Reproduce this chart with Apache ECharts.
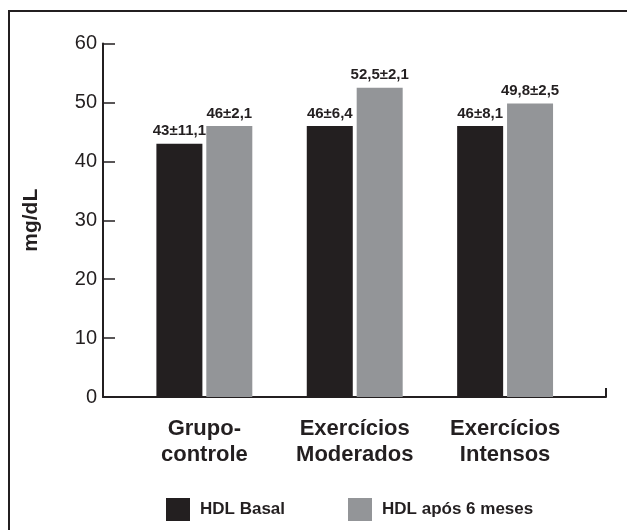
<!DOCTYPE html>
<html>
<head>
<meta charset="utf-8">
<script src="https://cdn.jsdelivr.net/npm/echarts@6/dist/echarts.min.js"></script>
<style>
  html, body { margin: 0; padding: 0; background: #fff; }
  #chart { width: 627px; height: 530px; }
</style>
</head>
<body>
<div id="chart"></div>
<script>
// groups on the x axis
const categories = ['Grupo-\ncontrole', 'Exercícios\nModerados', 'Exercícios\nIntensos'];
const seriesNames = ['HDL Basal', 'HDL após 6 meses'];
// mean values (mg/dL)
const basalValues = [43, 46, 46];
const afterValues = [46, 52.5, 49.8];
// labels printed over the bars
const basalLabels = ['43±11,1', '46±6,4', '46±8,1'];
const afterLabels = ['46±2,1', '52,5±2,1', '49,8±2,5'];
const yTicks = [0, 10, 20, 30, 40, 50, 60];

const dark = '#231f20';
const gray = '#939598';
const font = 'Liberation Sans, Arial, sans-serif';

const chart = echarts.init(document.getElementById('chart'));

function toPoints(vals) {
  return vals.map((v, i) => [i + 1, v]);
}

function barSeries(name, vals, labels, color) {
  return {
    name: name,
    type: 'bar',
    data: toPoints(vals),
    barWidth: 46,
    barGap: '8.5%',
    itemStyle: { color: color },
    label: {
      show: true,
      position: 'top',
      distance: 5,
      fontFamily: font,
      fontWeight: 'bold',
      fontSize: 15,
      color: dark,
      formatter: p => labels[p.dataIndex]
    }
  };
}

const option = {
  animation: false,
  backgroundColor: '#fff',
  graphic: [{
    type: 'rect',
    shape: { x: 9, y: 11, width: 800, height: 700 },
    style: { fill: 'none', stroke: dark, lineWidth: 2 }
  }],
  grid: { left: 103, right: 21, top: 43.5, bottom: 133 },
  legend: {
    left: 166,
    top: 498,
    padding: 0,
    icon: 'rect',
    itemWidth: 24,
    itemHeight: 23,
    itemGap: 63,
    data: seriesNames,
    textStyle: {
      fontFamily: font,
      fontWeight: 'bold',
      fontSize: 17,
      color: dark,
      padding: [0, 0, 0, 5]
    }
  },
  xAxis: {
    type: 'value',
    min: 0.326,
    max: 3.671,
    axisLine: { show: true, lineStyle: { color: dark, width: 2 } },
    axisTick: { show: true, inside: true, length: 9, customValues: [3.671], lineStyle: { color: dark, width: 2 } },
    axisLabel: {
      customValues: [1, 2, 3],
      formatter: v => categories[Math.round(v) - 1],
      fontFamily: font,
      fontWeight: 'bold',
      fontSize: 22,
      lineHeight: 26,
      color: dark,
      margin: 19
    },
    splitLine: { show: false }
  },
  yAxis: {
    type: 'value',
    min: yTicks[0],
    max: yTicks[yTicks.length - 1],
    interval: 10,
    name: 'mg/dL',
    nameLocation: 'middle',
    nameRotate: 90,
    nameGap: 61,
    nameTextStyle: { fontFamily: font, fontWeight: 'bold', fontSize: 21, color: dark },
    axisLine: { show: true, lineStyle: { color: dark, width: 2 } },
    axisTick: { show: true, inside: true, length: 12, lineStyle: { color: dark, width: 1.5 } },
    axisLabel: { fontFamily: font, fontSize: 20, color: dark, margin: 6 },
    splitLine: { show: false }
  },
  series: [
    barSeries(seriesNames[0], basalValues, basalLabels, dark),
    barSeries(seriesNames[1], afterValues, afterLabels, gray)
  ]
};

chart.setOption(option);
</script>
</body>
</html>
